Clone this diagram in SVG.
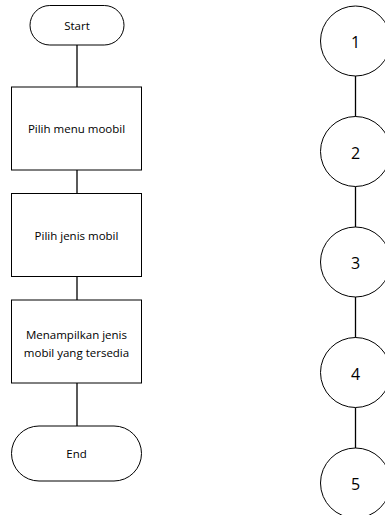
<svg xmlns="http://www.w3.org/2000/svg" width="385" height="515" viewBox="0 0 385 515">
<style>
.s{fill:#fff;stroke:#000;stroke-width:1}
.t{font-family:"Open Sans","Liberation Sans",sans-serif;font-size:11.5px;fill:#000;text-anchor:middle;dominant-baseline:central}
.n{font-family:"Open Sans","Liberation Sans",sans-serif;font-size:16px;fill:#000;text-anchor:middle;dominant-baseline:central}
.c{stroke:#000;stroke-width:1.3;fill:none}
</style>
<rect width="385" height="515" fill="#fff"/>
<g id="connectors">
<line class="c" x1="77" y1="45" x2="77" y2="87"/>
<line class="c" x1="77" y1="170" x2="77" y2="193"/>
<line class="c" x1="77" y1="277" x2="77" y2="300"/>
<line class="c" x1="77" y1="383" x2="77" y2="426"/>
<line class="c" x1="355.5" y1="76" x2="355.5" y2="117"/>
<line class="c" x1="355.5" y1="186.5" x2="355.5" y2="227"/>
<line class="c" x1="355.5" y1="297" x2="355.5" y2="338"/>
<line class="c" x1="355.5" y1="407.5" x2="355.5" y2="448"/>
</g>
<g id="start"><rect class="s" x="30" y="5.5" width="94" height="39.5" rx="19.75"/><text class="t" x="77" y="25.5">Start</text></g>
<g id="step1"><rect class="s" x="11.5" y="87" width="130" height="83"/><text class="t" x="76.5" y="128.5">Pilih menu moobil</text></g>
<g id="step2"><rect class="s" x="11.5" y="193.5" width="130" height="83"/><text class="t" x="76.5" y="235">Pilih jenis mobil</text></g>
<g id="step3"><rect class="s" x="11.5" y="300" width="130" height="83"/><text class="t" x="76.5" y="334">Menampilkan jenis</text><text class="t" x="76.5" y="352">mobil yang tersedia</text></g>
<g id="end"><rect class="s" x="11.5" y="426" width="130" height="55" rx="27.5"/><text class="t" x="76.5" y="453.5">End</text></g>
<g id="c1"><circle class="s" cx="355.5" cy="41" r="35"/><text class="n" x="355.5" y="42">1</text></g>
<g id="c2"><circle class="s" cx="355.5" cy="151.5" r="35"/><text class="n" x="355.5" y="152.5">2</text></g>
<g id="c3"><circle class="s" cx="355.5" cy="262" r="35"/><text class="n" x="355.5" y="263">3</text></g>
<g id="c4"><circle class="s" cx="355.5" cy="372.5" r="35"/><text class="n" x="355.5" y="373.5">4</text></g>
<g id="c5"><circle class="s" cx="355.5" cy="483" r="35"/><text class="n" x="355.5" y="484">5</text></g>
</svg>
